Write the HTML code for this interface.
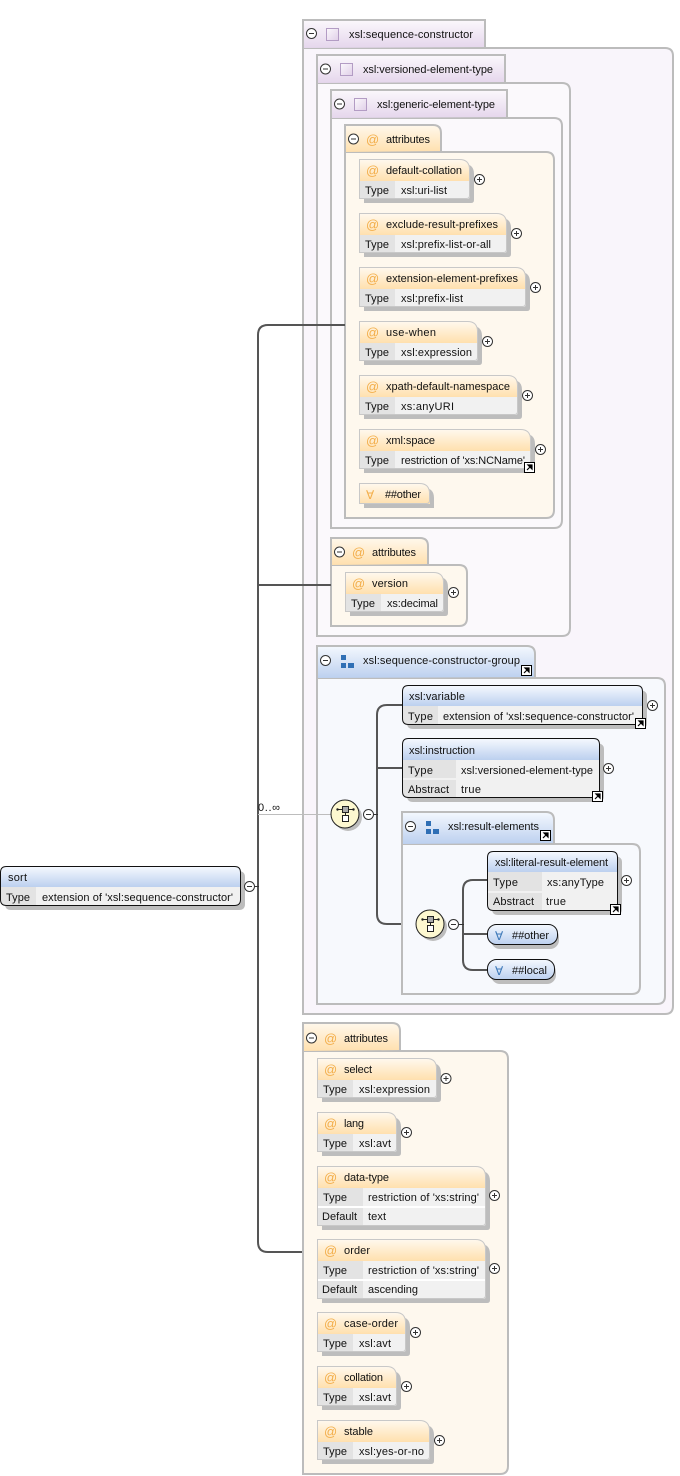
<!DOCTYPE html>
<html><head><meta charset="utf-8">
<style>
html,body{margin:0;padding:0;background:#fff;width:680px;height:1476px;overflow:hidden}
svg{display:block}
text{font-family:"Liberation Sans",sans-serif;font-size:11px;fill:#111}
.at{font-size:13px;fill:#f3ae4a}
.fa{font-family:"DejaVu Sans",sans-serif;font-size:12px}
.fr{stroke:#bcbcbc;stroke-width:2}
.sh{fill:#bdbdbd}
.ol{fill:none;stroke:#c8c8c8;stroke-width:1;transform:translate(-.5px,-.5px)}
.ob{fill:none;stroke:#111;stroke-width:1;transform:translate(-.5px,-.5px)}
.k{fill:#e3e3e3}
.v{fill:#f1f1f1}
.c{fill:none;stroke:#555;stroke-width:2}
</style></head><body>
<svg width="680" height="1476" viewBox="0 0 680 1476" xmlns="http://www.w3.org/2000/svg">
<defs>
<linearGradient id="pu" x1="0" y1="0" x2="0" y2="1"><stop offset="0" stop-color="#fbf8fc"/><stop offset="1" stop-color="#e5d6ec"/></linearGradient>
<linearGradient id="or" x1="0" y1="0" x2="0" y2="1"><stop offset="0" stop-color="#fff8ec"/><stop offset="1" stop-color="#ffe0ae"/></linearGradient>
<linearGradient id="bl" x1="0" y1="0" x2="0" y2="1"><stop offset="0" stop-color="#f4f8fe"/><stop offset="1" stop-color="#bcd0ef"/></linearGradient>
<linearGradient id="pi" x1="0" y1="0" x2="1" y2="1"><stop offset="0" stop-color="#fbf8fc"/><stop offset="1" stop-color="#e0cfe8"/></linearGradient>
<g id="m"><circle r="5" fill="#fff" stroke="#333"/><path d="M-2.500 0H2.500" stroke="#333"/></g>
<g id="p"><circle r="5" fill="#fff" stroke="#333"/><path d="M-2.500 0H2.500M0 -2.500V2.500" stroke="#333"/></g>
<g id="l"><rect x=".5" y=".5" width="10" height="10" fill="#fff" stroke="#000"/><path d="M3 8L7 4M4 3H8V7Z" stroke="#000" stroke-width="1.200" fill="#000"/></g>
<g id="pi2"><rect x=".5" y=".5" width="12" height="12" fill="url(#pi)" stroke="#b39cc4"/></g>
<g id="gi"><rect x="0" y="0" width="5" height="5" fill="#2f6fb5"/><rect x="0" y="8" width="5" height="5" fill="#2f6fb5"/><rect x="7" y="8" width="6" height="5" fill="#2f6fb5"/></g>
<g id="co"><circle cx="3" cy="3" r="14" fill="#bdbdbd"/><circle r="14" fill="#fdf8d0" stroke="#222"/><path d="M-8 -4.500H9M.5 -2V2" stroke="#222"/><circle cx="-7.500" cy="-4.500" r="1.200" fill="#222"/><circle cx="8.500" cy="-4.500" r="1.200" fill="#222"/><rect x="-2.500" y="-7.500" width="6" height="6" fill="#aaa" stroke="#222"/><rect x="-2.500" y="1.500" width="6" height="6" fill="#fff" stroke="#222"/></g>
</defs>

<!-- sequence-constructor -->
<path class="fr" fill="#f9f5fb" d="M303 48H665Q673 48 673 56V1006Q673 1014 665 1014H303Z"/>
<path class="fr" fill="url(#pu)" d="M303 48V20H485V47"/>
<use href="#m" x="311.500" y="33.500"/><use href="#pi2" x="326" y="28"/>
<text x="349" y="38" textLength="124">xsl:sequence-constructor</text>

<!-- versioned -->
<path class="fr" fill="#fbf9fc" d="M317 83H562Q570 83 570 91V628Q570 636 562 636H317Z"/>
<path class="fr" fill="url(#pu)" d="M317 83V55H505V82"/>
<use href="#m" x="325.500" y="69"/><use href="#pi2" x="340" y="63"/>
<text x="363" y="73" textLength="130">xsl:versioned-element-type</text>

<!-- generic -->
<path class="fr" fill="#fbf9fc" d="M331 118H554Q562 118 562 126V520Q562 528 554 528H331Z"/>
<path class="fr" fill="url(#pu)" d="M331 118V90H507V117"/>
<use href="#m" x="339.500" y="104"/><use href="#pi2" x="354" y="98"/>
<text x="377" y="108" textLength="118">xsl:generic-element-type</text>

<!-- attributes 1 -->
<path class="fr" fill="#fef8ee" d="M345 152H546Q554 152 554 160V510Q554 518 546 518H345Z"/>
<path class="fr" fill="url(#or)" d="M345 152V125H433Q441 125 441 133V151"/>
<use href="#m" x="353.500" y="139"/><text class="at" x="366" y="144">@</text>
<text x="386" y="143" textLength="44">attributes</text>

<!-- default-collation -->
<path class="sh" d="M364 164H464Q474 164 474 174V200Q474 203 471 203H364Z"/>
<path fill="url(#or)" d="M360 160H460Q470 160 470 170V181H360Z"/>
<path class="v" d="M360 181H470V196Q470 199 467 199H360Z"/><rect class="k" x="360" y="181" width="35" height="18"/>
<path class="ol" d="M360 160H460Q470 160 470 170V196Q470 199 467 199H360Z"/>
<text class="at" x="366" y="175">@</text><text x="386" y="174" textLength="76">default-collation</text>
<text x="365" y="194" textLength="24">Type</text><text x="401" y="194" textLength="46">xsl:uri-list</text>
<use href="#p" x="479.500" y="179.500"/>

<!-- exclude -->
<path class="sh" d="M364 218H501Q511 218 511 228V254Q511 257 508 257H364Z"/>
<path fill="url(#or)" d="M360 214H497Q507 214 507 224V235H360Z"/>
<path class="v" d="M360 235H507V250Q507 253 504 253H360Z"/><rect class="k" x="360" y="235" width="35" height="18"/>
<path class="ol" d="M360 214H497Q507 214 507 224V250Q507 253 504 253H360Z"/>
<text class="at" x="366" y="229">@</text><text x="386" y="228" textLength="112">exclude-result-prefixes</text>
<text x="365" y="248" textLength="24">Type</text><text x="401" y="248" textLength="90">xsl:prefix-list-or-all</text>
<use href="#p" x="516.500" y="233.500"/>

<!-- extension -->
<path class="sh" d="M364 272H520Q530 272 530 282V308Q530 311 527 311H364Z"/>
<path fill="url(#or)" d="M360 268H516Q526 268 526 278V289H360Z"/>
<path class="v" d="M360 289H526V304Q526 307 523 307H360Z"/><rect class="k" x="360" y="289" width="35" height="18"/>
<path class="ol" d="M360 268H516Q526 268 526 278V304Q526 307 523 307H360Z"/>
<text class="at" x="366" y="283">@</text><text x="386" y="282" textLength="132">extension-element-prefixes</text>
<text x="365" y="302" textLength="24">Type</text><text x="401" y="302" textLength="62">xsl:prefix-list</text>
<use href="#p" x="535.500" y="287.500"/>

<!-- use-when -->
<path class="sh" d="M364 326H472Q482 326 482 336V362Q482 365 479 365H364Z"/>
<path fill="url(#or)" d="M360 322H468Q478 322 478 332V343H360Z"/>
<path class="v" d="M360 343H478V358Q478 361 475 361H360Z"/><rect class="k" x="360" y="343" width="35" height="18"/>
<path class="ol" d="M360 322H468Q478 322 478 332V358Q478 361 475 361H360Z"/>
<text class="at" x="366" y="337">@</text><text x="386" y="336" textLength="50">use-when</text>
<text x="365" y="356" textLength="24">Type</text><text x="401" y="356" textLength="71">xsl:expression</text>
<use href="#p" x="487.500" y="341.500"/>

<!-- xpath-default-namespace -->
<path class="sh" d="M364 380H512Q522 380 522 390V416Q522 419 519 419H364Z"/>
<path fill="url(#or)" d="M360 376H508Q518 376 518 386V397H360Z"/>
<path class="v" d="M360 397H518V412Q518 415 515 415H360Z"/><rect class="k" x="360" y="397" width="35" height="18"/>
<path class="ol" d="M360 376H508Q518 376 518 386V412Q518 415 515 415H360Z"/>
<text class="at" x="366" y="391">@</text><text x="386" y="390" textLength="124">xpath-default-namespace</text>
<text x="365" y="410" textLength="24">Type</text><text x="401" y="410" textLength="53">xs:anyURI</text>
<use href="#p" x="527.500" y="395.500"/>

<!-- xml:space -->
<path class="sh" d="M364 434H525Q535 434 535 444V470Q535 473 532 473H364Z"/>
<path fill="url(#or)" d="M360 430H521Q531 430 531 440V451H360Z"/>
<path class="v" d="M360 451H531V466Q531 469 528 469H360Z"/><rect class="k" x="360" y="451" width="35" height="18"/>
<path class="ol" d="M360 430H521Q531 430 531 440V466Q531 469 528 469H360Z"/>
<text class="at" x="366" y="445">@</text><text x="386" y="444" textLength="49">xml:space</text>
<text x="365" y="464" textLength="24">Type</text><text x="401" y="464" textLength="124">restriction of 'xs:NCName'</text>
<use href="#l" x="524" y="462"/><use href="#p" x="540.500" y="449.500"/>

<!-- ##other orange -->
<path class="sh" d="M364 488H424Q434 488 434 498V508H364Z"/>
<path fill="url(#or)" d="M360 484H420Q430 484 430 494V504H360Z"/>
<path class="ol" d="M360 484H420Q430 484 430 494V501Q430 504 427 504H360Z"/>
<text class="fa" x="366" y="499" style="fill:#f3ae4a">∀</text><text x="385" y="498" textLength="36">##other</text>

<!-- attributes 2 -->
<path class="fr" fill="#fef8ee" d="M331 565H459Q467 565 467 573V618Q467 626 459 626H331Z"/>
<path class="fr" fill="url(#or)" d="M331 565V538H420Q428 538 428 546V564"/>
<use href="#m" x="339.500" y="552"/><text class="at" x="352" y="557">@</text>
<text x="372" y="556" textLength="44">attributes</text>
<path class="sh" d="M350 577H438Q448 577 448 587V613Q448 616 445 616H350Z"/>
<path fill="url(#or)" d="M346 573H434Q444 573 444 583V594H346Z"/>
<path class="v" d="M346 594H444V609Q444 612 441 612H346Z"/><rect class="k" x="346" y="594" width="35" height="18"/>
<path class="ol" d="M346 573H434Q444 573 444 583V609Q444 612 441 612H346Z"/>
<text class="at" x="352" y="588">@</text><text x="372" y="587" textLength="36">version</text>
<text x="351" y="607" textLength="24">Type</text><text x="387" y="607" textLength="51">xs:decimal</text>
<use href="#p" x="453.500" y="592.500"/>

<!-- group -->
<path class="fr" fill="#f7f9fd" d="M317 678H657Q665 678 665 686V996Q665 1004 657 1004H317Z"/>
<path class="fr" fill="url(#bl)" d="M317 678V646H527Q535 646 535 654V677"/>
<use href="#m" x="325.500" y="660.500"/><use href="#gi" x="341" y="655"/>
<text x="363" y="664" textLength="157">xsl:sequence-constructor-group</text>
<use href="#l" x="521" y="665"/>

<!-- outer connectors -->
<path class="c" d="M345 325H268Q258 325 258 335V1242Q258 1252 268 1252H303"/>
<path class="c" d="M258 585H331"/>
<path d="M258 814.500H331" stroke="#bdbdbd" fill="none"/>
<text x="258" y="811" textLength="22">0..∞</text>

<!-- inner connectors group -->
<path class="c" d="M403 705H387Q377 705 377 715V914Q377 924 387 924H416"/>
<path class="c" d="M377 768H403"/>
<path d="M373 814.500H378" stroke="#333" fill="none"/>
<use href="#co" x="345" y="814"/><use href="#m" x="368.500" y="814.500"/>

<!-- xsl:variable -->
<path class="sh" d="M409 690H638Q647 690 647 696V723Q647 729 641 729H413Q407 729 407 723V696Z"/>
<path class="v" d="M403 700H643V719Q643 725 637 725H409Q403 725 403 719Z"/>
<path class="k" d="M403 706H438V725H409Q403 725 403 719Z"/>
<path fill="url(#bl)" d="M403 706V692Q403 686 409 686H637Q643 686 643 692V706Z"/>
<path class="ob" d="M409 686H637Q643 686 643 692V719Q643 725 637 725H409Q403 725 403 719V692Q403 686 409 686Z"/>
<text x="409" y="700" textLength="56">xsl:variable</text>
<text x="408" y="720" textLength="25">Type</text><text x="443" y="720" textLength="191">extension of 'xsl:sequence-constructor'</text>
<use href="#l" x="635" y="718"/><use href="#p" x="652.500" y="705.500"/>

<!-- xsl:instruction -->
<path class="sh" d="M409 743H595Q604 743 604 749V796Q604 802 598 802H413Q407 802 407 796V749Z"/>
<path class="v" d="M403 750H600V792Q600 798 594 798H409Q403 798 403 792Z"/>
<path class="k" d="M403 760H456V778H403ZM403 780H456V798H409Q403 798 403 792Z"/>
<path fill="url(#bl)" d="M403 760V745Q403 739 409 739H594Q600 739 600 745V760Z"/>
<path class="ob" d="M409 739H594Q600 739 600 745V792Q600 798 594 798H409Q403 798 403 792V745Q403 739 409 739Z"/>
<text x="409" y="754" textLength="66">xsl:instruction</text>
<text x="408" y="774" textLength="25">Type</text><text x="461" y="774" textLength="132">xsl:versioned-element-type</text>
<text x="408" y="793" textLength="41">Abstract</text><text x="461" y="793" textLength="20">true</text>
<use href="#l" x="592" y="791"/><use href="#p" x="608.500" y="768.500"/>

<!-- result-elements -->
<path class="fr" fill="#f7f9fd" d="M402 844H632Q640 844 640 852V986Q640 994 632 994H402Z"/>
<path class="fr" fill="url(#bl)" d="M402 844V812H546Q554 812 554 820V843"/>
<use href="#m" x="410.500" y="826.500"/><use href="#gi" x="426" y="821"/>
<text x="448" y="830" textLength="91">xsl:result-elements</text>
<use href="#l" x="540" y="830"/>

<path class="c" d="M488 880H473Q463 880 463 890V960Q463 970 473 970H488"/>
<path class="c" d="M463 934H488"/>
<path d="M459 924.500H464" stroke="#333" fill="none"/>
<use href="#co" x="430" y="924"/><use href="#m" x="453.500" y="924.500"/>

<!-- literal-result-element -->
<path class="sh" d="M494 856H613Q622 856 622 862V909Q622 915 616 915H498Q492 915 492 909V862Z"/>
<path class="v" d="M488 860H618V905Q618 911 612 911H494Q488 911 488 905Z"/>
<path class="k" d="M488 872H542V891H488ZM488 893H542V911H494Q488 911 488 905Z"/>
<path fill="url(#bl)" d="M488 872V858Q488 852 494 852H612Q618 852 618 858V872Z"/>
<path class="ob" d="M494 852H612Q618 852 618 858V905Q618 911 612 911H494Q488 911 488 905V858Q488 852 494 852Z"/>
<text x="495" y="866" textLength="113">xsl:literal-result-element</text>
<text x="493" y="886" textLength="25">Type</text><text x="547" y="886" textLength="57">xs:anyType</text>
<text x="493" y="905" textLength="41">Abstract</text><text x="546" y="905" textLength="20">true</text>
<use href="#l" x="610" y="904"/><use href="#p" x="626.500" y="880.500"/>

<!-- ##other blue -->
<rect class="sh" x="491" y="928" width="68" height="21" rx="9"/>
<rect x="487.500" y="924.500" width="70" height="20" rx="9" fill="url(#bl)" stroke="#111"/>
<text class="fa" x="495" y="940" style="fill:#3c78b8">∀</text><text x="512" y="939" textLength="37">##other</text>
<!-- ##local blue -->
<rect class="sh" x="491" y="963" width="65" height="21" rx="9"/>
<rect x="487.500" y="959.500" width="67" height="20" rx="9" fill="url(#bl)" stroke="#111"/>
<text class="fa" x="495" y="975" style="fill:#3c78b8">∀</text><text x="512" y="974" textLength="35">##local</text>

<!-- sort -->
<path class="sh" d="M7 871H238Q245 871 245 877V904Q245 910 239 910H11Q5 910 5 904V877Z"/>
<path class="v" d="M1 880H241V900Q241 906 235 906H7Q1 906 1 900Z"/>
<path class="k" d="M1 887H36V906H7Q1 906 1 900Z"/>
<path fill="url(#bl)" d="M1 887V873Q1 867 7 867H235Q241 867 241 873V887Z"/>
<path class="ob" d="M7 867H235Q241 867 241 873V900Q241 906 235 906H7Q1 906 1 900V873Q1 867 7 867Z"/>
<text x="8" y="881" textLength="19">sort</text>
<text x="6" y="901" textLength="24">Type</text><text x="42" y="901" textLength="191">extension of 'xsl:sequence-constructor'</text>
<path d="M254 886.500H259" stroke="#333" fill="none"/>
<use href="#m" x="249.500" y="886.500"/>

<!-- attributes bottom -->
<path class="fr" fill="#fef8ee" d="M303 1051H500Q508 1051 508 1059V1466Q508 1474 500 1474H303Z"/>
<path class="fr" fill="url(#or)" d="M303 1051V1023H392Q400 1023 400 1031V1050"/>
<use href="#m" x="311.500" y="1038"/><text class="at" x="324" y="1043">@</text>
<text x="344" y="1042" textLength="44">attributes</text>

<!-- select -->
<path class="sh" d="M322 1063H431Q441 1063 441 1073V1099Q441 1102 438 1102H322Z"/>
<path fill="url(#or)" d="M318 1059H427Q437 1059 437 1069V1080H318Z"/>
<path class="v" d="M318 1080H437V1095Q437 1098 434 1098H318Z"/><rect class="k" x="318" y="1080" width="35" height="18"/>
<path class="ol" d="M318 1059H427Q437 1059 437 1069V1095Q437 1098 434 1098H318Z"/>
<text class="at" x="324" y="1074">@</text><text x="344" y="1073" textLength="28">select</text>
<text x="323" y="1093" textLength="24">Type</text><text x="359" y="1093" textLength="71">xsl:expression</text>
<use href="#p" x="446" y="1078.500"/>

<!-- lang -->
<path class="sh" d="M322 1117H391Q401 1117 401 1127V1153Q401 1156 398 1156H322Z"/>
<path fill="url(#or)" d="M318 1113H387Q397 1113 397 1123V1134H318Z"/>
<path class="v" d="M318 1134H397V1149Q397 1152 394 1152H318Z"/><rect class="k" x="318" y="1134" width="35" height="18"/>
<path class="ol" d="M318 1113H387Q397 1113 397 1123V1149Q397 1152 394 1152H318Z"/>
<text class="at" x="324" y="1128">@</text><text x="344" y="1127" textLength="20">lang</text>
<text x="323" y="1147" textLength="24">Type</text><text x="359" y="1147" textLength="32">xsl:avt</text>
<use href="#p" x="406.500" y="1132.500"/>

<!-- data-type -->
<path class="sh" d="M322 1171H480Q490 1171 490 1181V1227Q490 1230 487 1230H322Z"/>
<path fill="url(#or)" d="M318 1167H476Q486 1167 486 1177V1188H318Z"/>
<path class="v" d="M318 1188H486V1223Q486 1226 483 1226H318Z"/>
<rect class="k" x="318" y="1188" width="45" height="18"/><rect class="k" x="318" y="1208" width="45" height="18"/>
<rect x="318" y="1206" width="168" height="2" fill="#fff"/>
<path class="ol" d="M318 1167H476Q486 1167 486 1177V1223Q486 1226 483 1226H318Z"/>
<text class="at" x="324" y="1182">@</text><text x="344" y="1181" textLength="45">data-type</text>
<text x="323" y="1201" textLength="24">Type</text><text x="368" y="1201" textLength="111">restriction of 'xs:string'</text>
<text x="322" y="1220" textLength="35">Default</text><text x="368" y="1220" textLength="18">text</text>
<use href="#p" x="494.500" y="1195.500"/>

<!-- order -->
<path class="sh" d="M322 1244H480Q490 1244 490 1254V1300Q490 1303 487 1303H322Z"/>
<path fill="url(#or)" d="M318 1240H476Q486 1240 486 1250V1261H318Z"/>
<path class="v" d="M318 1261H486V1296Q486 1299 483 1299H318Z"/>
<rect class="k" x="318" y="1261" width="45" height="18"/><rect class="k" x="318" y="1281" width="45" height="18"/>
<rect x="318" y="1279" width="168" height="2" fill="#fff"/>
<path class="ol" d="M318 1240H476Q486 1240 486 1250V1296Q486 1299 483 1299H318Z"/>
<text class="at" x="324" y="1255">@</text><text x="344" y="1254" textLength="26">order</text>
<text x="323" y="1274" textLength="24">Type</text><text x="368" y="1274" textLength="111">restriction of 'xs:string'</text>
<text x="322" y="1293" textLength="35">Default</text><text x="368" y="1293" textLength="50">ascending</text>
<use href="#p" x="494.500" y="1268.500"/>

<!-- case-order -->
<path class="sh" d="M322 1317H400Q410 1317 410 1327V1353Q410 1356 407 1356H322Z"/>
<path fill="url(#or)" d="M318 1313H396Q406 1313 406 1323V1334H318Z"/>
<path class="v" d="M318 1334H406V1349Q406 1352 403 1352H318Z"/><rect class="k" x="318" y="1334" width="35" height="18"/>
<path class="ol" d="M318 1313H396Q406 1313 406 1323V1349Q406 1352 403 1352H318Z"/>
<text class="at" x="324" y="1328">@</text><text x="344" y="1327" textLength="54">case-order</text>
<text x="323" y="1347" textLength="24">Type</text><text x="359" y="1347" textLength="32">xsl:avt</text>
<use href="#p" x="415.500" y="1332.500"/>

<!-- collation -->
<path class="sh" d="M322 1371H391Q401 1371 401 1381V1407Q401 1410 398 1410H322Z"/>
<path fill="url(#or)" d="M318 1367H387Q397 1367 397 1377V1388H318Z"/>
<path class="v" d="M318 1388H397V1403Q397 1406 394 1406H318Z"/><rect class="k" x="318" y="1388" width="35" height="18"/>
<path class="ol" d="M318 1367H387Q397 1367 397 1377V1403Q397 1406 394 1406H318Z"/>
<text class="at" x="324" y="1382">@</text><text x="344" y="1381" textLength="39">collation</text>
<text x="323" y="1401" textLength="24">Type</text><text x="359" y="1401" textLength="32">xsl:avt</text>
<use href="#p" x="406.500" y="1386.500"/>

<!-- stable -->
<path class="sh" d="M322 1425H424Q434 1425 434 1435V1461Q434 1464 431 1464H322Z"/>
<path fill="url(#or)" d="M318 1421H420Q430 1421 430 1431V1442H318Z"/>
<path class="v" d="M318 1442H430V1457Q430 1460 427 1460H318Z"/><rect class="k" x="318" y="1442" width="35" height="18"/>
<path class="ol" d="M318 1421H420Q430 1421 430 1431V1457Q430 1460 427 1460H318Z"/>
<text class="at" x="324" y="1436">@</text><text x="344" y="1435" textLength="29">stable</text>
<text x="323" y="1455" textLength="24">Type</text><text x="359" y="1455" textLength="65">xsl:yes-or-no</text>
<use href="#p" x="439.500" y="1440.500"/>
</svg>
</body></html>
